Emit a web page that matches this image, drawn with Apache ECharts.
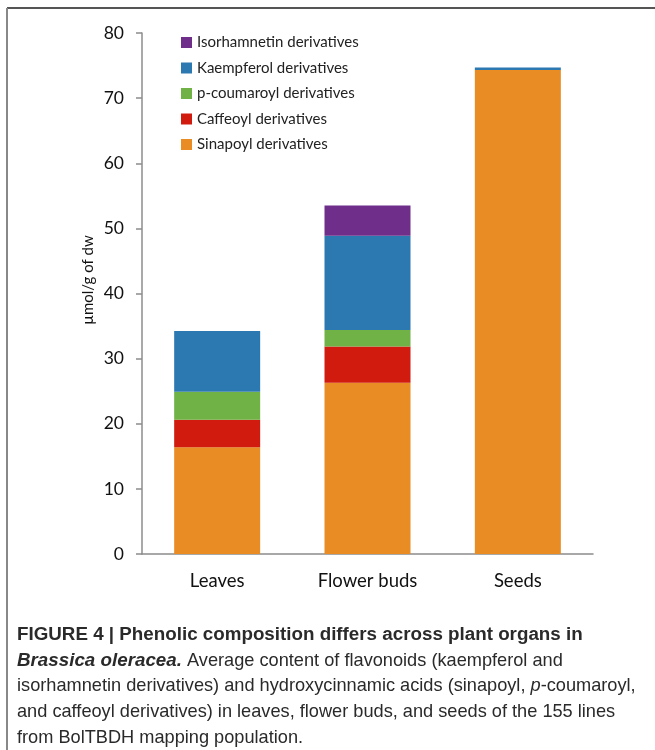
<!DOCTYPE html>
<html>
<head>
<meta charset="utf-8">
<script src="https://cdn.jsdelivr.net/npm/echarts@6/dist/echarts.min.js"></script>
<style>
html,body{margin:0;padding:0;background:#fff;}
#c{width:655px;height:750px;}
</style>
</head>
<body>
<div id="c"></div>
<script>
var categories = ['Leaves', 'Flower buds', 'Seeds'];
var sinapoyl = [16.4, 26.3, 74.3];
var caffeoyl = [4.2, 5.55, 0];
var coumaroyl = [4.3, 2.55, 0];
var kaempferol = [9.35, 14.45, 0.4];
var isorhamnetin = [0, 4.65, 0];
var yTicks = [0, 10, 20, 30, 40, 50, 60, 70, 80];

var seriesNames = ['Sinapoyl derivatives', 'Caffeoyl derivatives', 'p-coumaroyl derivatives', 'Kaempferol derivatives', 'Isorhamnetin derivatives'];
var seriesData = [sinapoyl, caffeoyl, coumaroyl, kaempferol, isorhamnetin];
var colors = ['#E98C23', '#D01B0E', '#70B246', '#2C79B1', '#6E2E8A'];

var chart = echarts.init(document.getElementById('c'), null, {renderer: 'canvas'});

var series = seriesNames.map(function (n, i) {
  return {
    name: n, type: 'bar', stack: 'all', barWidth: 86,
    data: seriesData[i],
    itemStyle: {color: colors[i]}
  };
});

var capFont = '"Liberation Sans Narrow", "Liberation Sans", Arial, sans-serif';
var capSize = 18.2;
var capBoldSize = 18.8;
var capColor = '#2a2a2a';
function capLine(y, text, rich) {
  return {
    type: 'text', left: 17, top: y, silent: true,
    style: {text: text, rich: rich, font: capSize + 'px ' + capFont, fill: capColor}
  };
}
var richBase = {
  b: {fontWeight: 'bold', fontSize: capBoldSize, fontFamily: capFont, color: '#1a1a1a'},
  bi: {fontWeight: 'bold', fontStyle: 'italic', fontSize: capBoldSize, fontFamily: capFont, color: '#1a1a1a'},
  i: {fontStyle: 'italic', fontSize: capSize, fontFamily: capFont, color: capColor},
  n: {fontSize: capSize, fontFamily: capFont, color: capColor}
};
var uiFont = 'Lato, "Open Sans", sans-serif';

chart.setOption({
  animation: false,
  color: colors,
  grid: {left: 142, right: 62, top: 33, bottom: 196, containLabel: false},
  legend: {
    orient: 'vertical', left: 176, top: 30,
    itemWidth: 11, itemHeight: 11, itemGap: 10.5,
    icon: 'rect',
    data: seriesNames.slice().reverse(),
    textStyle: {fontFamily: uiFont, fontSize: 15, color: '#222'}
  },
  xAxis: {
    type: 'category', data: categories,
    axisLine: {lineStyle: {color: '#8c8c8c', width: 1.5}},
    axisTick: {show: false},
    axisLabel: {fontFamily: uiFont, fontSize: 18.5, color: '#111', margin: 18}
  },
  yAxis: {
    type: 'value', min: 0, max: 80, interval: 10,
    axisLine: {show: true, lineStyle: {color: '#8c8c8c', width: 1.5}},
    axisTick: {show: true, length: 6, lineStyle: {color: '#8c8c8c', width: 1.5}},
    splitLine: {show: false},
    axisLabel: {fontFamily: uiFont, fontSize: 17.5, color: '#111', margin: 18,
      formatter: function (v) { return yTicks.indexOf(v) >= 0 ? String(v) : ''; }}
  },
  series: series,
  graphic: [
    {type: 'line', silent: true, shape: {x1: 7, y1: 8, x2: 655, y2: 8}, style: {stroke: '#555', lineWidth: 2}},
    {type: 'line', silent: true, shape: {x1: 7, y1: 8, x2: 7, y2: 750}, style: {stroke: '#888', lineWidth: 2}},
    {type: 'text', silent: true, x: 88, y: 280, rotation: Math.PI / 2,
      style: {text: 'µmol/g of dw', font: '15px ' + uiFont, fill: '#111', textAlign: 'center', textVerticalAlign: 'middle'}},
    capLine(625, '{b|FIGURE 4 | Phenolic composition differs across plant organs in}', richBase),
    capLine(651, '{bi|Brassica oleracea.}{n| Average content of flavonoids (kaempferol and}', richBase),
    capLine(677, '{n|isorhamnetin derivatives) and hydroxycinnamic acids (sinapoyl, }{i|p}{n|-coumaroyl,}', richBase),
    capLine(703, '{n|and caffeoyl derivatives) in leaves, flower buds, and seeds of the 155 lines}', richBase),
    capLine(729, '{n|from BolTBDH mapping population.}', richBase)
  ]
});
</script>
</body>
</html>
